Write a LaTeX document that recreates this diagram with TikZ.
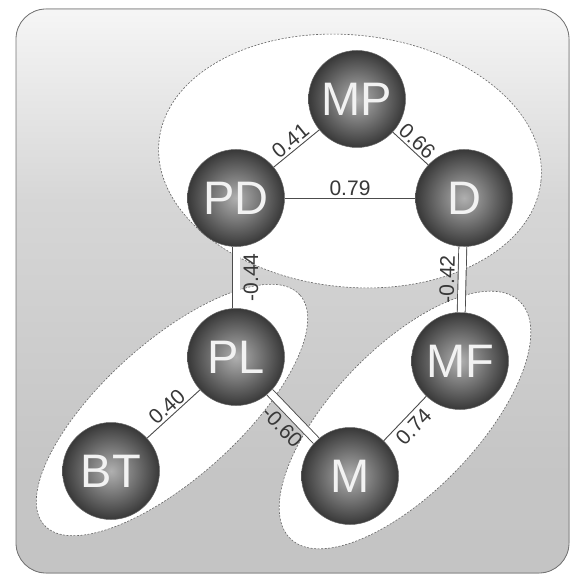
\documentclass[tikz,border=0pt]{standalone}
\usepackage{fontspec}
\setmainfont{Liberation Sans}
\usetikzlibrary{shadings}
\pgfdeclareverticalshading{bgshade}{100bp}{color(0bp)=(gray!50); color(35bp)=(gray!45); color(58bp)=(gray!32); color(76bp)=(gray!6); color(100bp)=(white)}
\begin{document}
\begin{tikzpicture}[x=1pt,y=1pt,
  sphere/.style={circle, minimum size=97pt, inner sep=0pt, draw=black!60, line width=0.5pt,
    inner color=gray!62, outer color=black!78, text=white!90!gray,
    font=\fontsize{47}{47}\selectfont},
  lbl/.style={font=\fontsize{21}{21}\selectfont, text=black!78, inner sep=2pt},
  edge/.style={draw=black!70, line width=0.9pt},
  dbl/.style={draw=black!70, line width=0.9pt, double=white, double distance=7pt},
  ell/.style={fill=white, draw=black!60, dash pattern=on 2pt off 1.5pt, line width=0.6pt}]
\useasboundingbox (0,0) rectangle (574,-577);
% frame
\fill[shading=bgshade, rounded corners=30pt] (16,-9) rectangle (569,-573);
\draw[black!55, line width=0.8pt, rounded corners=30pt] (16,-9) rectangle (569,-573);
% cluster ellipses
\draw[ell, rotate around={-6:(350,-161)}] (350,-161) ellipse [x radius=192, y radius=126];
\draw[ell, rotate around={42:(172,-410)}] (172,-410) ellipse [x radius=172, y radius=68];
\draw[ell, rotate around={46:(405,-420)}] (405,-420) ellipse [x radius=165, y radius=72];
% nodes
\node[sphere] (MP) at (357,-99) {MP};
\node[sphere] (PD) at (236,-198) {PD};
\node[sphere] (D)  at (464,-198) {D};
\node[sphere] (PL) at (236,-357) {PL};
\node[sphere] (MF) at (460,-361) {MF};
\node[sphere] (BT) at (111,-471) {BT};
\node[sphere] (M)  at (350,-476) {M};
% connectors
\draw[edge] (PD) -- node[lbl, sloped, above] {0.41} (MP);
\draw[edge] (MP) -- node[lbl, sloped, above] {0.66} (D);
\draw[edge] (PD) -- node[lbl, above] {0.79} (D);
\draw[dbl] (PL) -- node[lbl, sloped, below=5pt] {-0.44} (PD);
\draw[dbl] (MF) -- node[lbl, sloped, above=5pt] {-0.42} (D);
\draw[edge] (BT) -- node[lbl, sloped, above] {0.40} (PL);
\draw[dbl] (PL) -- node[lbl, sloped, below=5pt] {-0.60} (M);
\draw[edge] (M) -- node[lbl, sloped, below=2pt] {0.74} (MF);
\end{tikzpicture}
\end{document}
